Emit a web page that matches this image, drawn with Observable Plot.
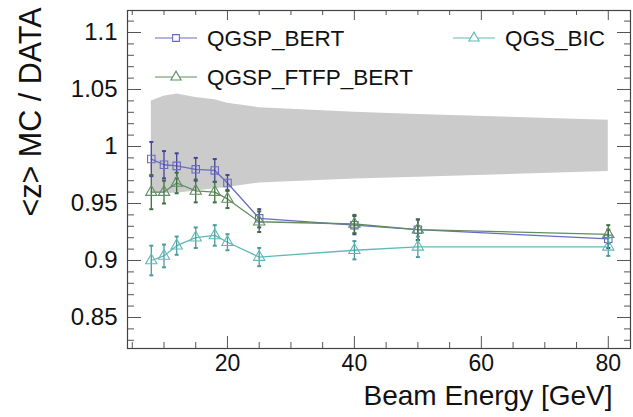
<!DOCTYPE html>
<html>
<head>
<meta charset="utf-8">
<script src="https://cdn.jsdelivr.net/npm/d3@7"></script>
<script src="https://cdn.jsdelivr.net/npm/@observablehq/plot@0.6"></script>
<style>
  body { margin: 0; background: white; }
  #chart { width: 633px; height: 417px; }
</style>
</head>
<body>
<div id="chart"></div>
<script>
// ---- data ----
const energies = [8, 10, 12, 15, 18, 20, 25, 40, 50, 80];
const qgspBert        = [0.989, 0.984, 0.983, 0.980, 0.979, 0.968, 0.937, 0.931, 0.927, 0.919];
const qgspBertErr     = [0.015, 0.012, 0.011, 0.010, 0.010, 0.007, 0.008, 0.008, 0.009, 0.008];
const qgspFtfpBert    = [0.960, 0.960, 0.968, 0.961, 0.960, 0.954, 0.934, 0.932, 0.927, 0.923];
const qgspFtfpBertErr = [0.015, 0.010, 0.009, 0.010, 0.009, 0.008, 0.009, 0.008, 0.009, 0.008];
const qgsBic          = [0.900, 0.904, 0.913, 0.920, 0.922, 0.916, 0.903, 0.909, 0.912, 0.912];
const qgsBicErr       = [0.013, 0.010, 0.008, 0.009, 0.009, 0.007, 0.008, 0.008, 0.009, 0.008];
const bandHigh = [1.040, 1.044, 1.046, 1.043, 1.041, 1.038, 1.034, 1.030, 1.028, 1.023];
const bandLow  = [0.959, 0.959, 0.959, 0.961, 0.963, 0.964, 0.968, 0.9715, 0.973, 0.978];

const seriesNames = ["QGSP_BERT", "QGSP_FTFP_BERT", "QGS_BIC"];
const xMajorTicks = [20, 40, 60, 80];
const xMinorTicks = [5, 10, 15, 25, 30, 35, 45, 50, 55, 65, 70, 75];
const yMajorTicks = [0.85, 0.9, 0.95, 1, 1.05, 1.1];
const yMinorTicks = [0.83, 0.84, 0.86, 0.87, 0.88, 0.89, 0.91, 0.92, 0.93, 0.94, 0.96, 0.97, 0.98, 0.99,
                     1.01, 1.02, 1.03, 1.04, 1.06, 1.07, 1.08, 1.09, 1.11];
const xTitle = "Beam Energy [GeV]";
const yTitle = "<z> MC / DATA";

// ---- styles ----
const colors = {"QGSP_BERT": "#6a6ac6", "QGSP_FTFP_BERT": "#5f8f5f", "QGS_BIC": "#62b8b8"};
const errColors = {"QGSP_BERT": "#44449a", "QGSP_FTFP_BERT": "#3f6f3f", "QGS_BIC": "#4a9c9c"};
const symbols = {"QGSP_BERT": "square", "QGSP_FTFP_BERT": "triangle", "QGS_BIC": "triangle"};

const valuesBySeries = {"QGSP_BERT": qgspBert, "QGSP_FTFP_BERT": qgspFtfpBert, "QGS_BIC": qgsBic};
const errsBySeries = {"QGSP_BERT": qgspBertErr, "QGSP_FTFP_BERT": qgspFtfpBertErr, "QGS_BIC": qgsBicErr};

const band = energies.map((e, i) => ({energy: e, lo: bandLow[i], hi: bandHigh[i]}));
const rowsFor = s => energies.map((e, i) => ({series: s, energy: e, value: valuesBySeries[s][i], err: errsBySeries[s][i]}));

const capSymbol = {
  draw(ctx, size) {
    const w = Math.sqrt(size / Math.PI);
    ctx.moveTo(-w, 0); ctx.lineTo(w, 0);
  }
};

const W = 633, H = 417, mL = 127, mR = 3, mT = 10, mB = 69;
const frameH = H - mT - mB;
const frameW = W - mL - mR;
const tickStroke = "#555";

const seriesMarks = seriesNames.flatMap(s => {
  const rows = rowsFor(s);
  return [
    Plot.line(rows, {x: "energy", y: "value", stroke: colors[s], strokeWidth: 1.3}),
    Plot.ruleX(rows, {x: "energy", y1: d => d.value - d.err, y2: d => d.value + d.err, stroke: errColors[s], strokeWidth: 1.3}),
    Plot.dot(rows, {x: "energy", y: d => d.value - d.err, symbol: capSymbol, r: 2, stroke: errColors[s], strokeWidth: 2}),
    Plot.dot(rows, {x: "energy", y: d => d.value + d.err, symbol: capSymbol, r: 2, stroke: errColors[s], strokeWidth: 2}),
    Plot.dot(rows, {x: "energy", y: "value", symbol: symbols[s], r: 4.2, stroke: colors[s], fill: "none", strokeWidth: 1.1})
  ];
});

const chart = Plot.plot({
  width: W, height: H,
  marginLeft: mL, marginRight: mR, marginTop: mT, marginBottom: mB,
  style: {fontFamily: "'Liberation Sans', Arial, sans-serif", color: "#111", background: "white", overflow: "visible"},
  x: {domain: [4.25, 83.5]},
  y: {domain: [0.8228, 1.1193]},
  marks: [
    Plot.areaY(band, {x: "energy", y1: "lo", y2: "hi", fill: "#cbcbcb"}),
    ...seriesMarks,
    // inward ticks on all four sides
    Plot.ruleX(xMajorTicks, {x: d => d, insetTop: frameH - 12, stroke: tickStroke}),
    Plot.ruleX(xMinorTicks, {x: d => d, insetTop: frameH - 6, stroke: tickStroke}),
    Plot.ruleX(xMajorTicks, {x: d => d, insetBottom: frameH - 10, stroke: tickStroke}),
    Plot.ruleX(xMinorTicks, {x: d => d, insetBottom: frameH - 5, stroke: tickStroke}),
    Plot.ruleY(yMajorTicks, {y: d => d, insetRight: frameW - 14, stroke: tickStroke}),
    Plot.ruleY(yMinorTicks, {y: d => d, insetRight: frameW - 7, stroke: tickStroke}),
    Plot.ruleY(yMajorTicks, {y: d => d, insetLeft: frameW - 13, stroke: tickStroke}),
    Plot.ruleY(yMinorTicks, {y: d => d, insetLeft: frameW - 6, stroke: tickStroke}),
    Plot.frame({stroke: "#444", strokeWidth: 1.2}),
    Plot.axisX(xMajorTicks, {anchor: "bottom", tickSize: 0, tickPadding: 6, label: null, fontSize: 23, tickFormat: d => String(d)}),
    Plot.axisY(yMajorTicks, {anchor: "left", tickSize: 0, tickPadding: 10, label: null, fontSize: 24, tickFormat: d => String(+d.toFixed(2))}),
    Plot.text([xTitle], {text: d => d, frameAnchor: "bottom-right", dx: -18, dy: 48, textAnchor: "end", lineAnchor: "middle", fontSize: 28}),
    Plot.text([yTitle], {text: d => d, frameAnchor: "top-left", dx: -96, dy: -3, rotate: -90, textAnchor: "end", lineAnchor: "middle", fontSize: 30.5})
  ]
});

document.getElementById("chart").appendChild(chart);

// ---- legend (inside the frame, drawn in pixel space) ----
const svg = d3.select(chart);
const legendItems = [
  {name: "QGSP_BERT", x: 155, y: 38},
  {name: "QGSP_FTFP_BERT", x: 155, y: 77},
  {name: "QGS_BIC", x: 453, y: 38}
];
const lg = svg.append("g")
  .attr("font-family", "'Liberation Sans', Arial, sans-serif")
  .attr("text-anchor", "start");
legendItems.forEach(it => {
  const c = colors[it.name];
  lg.append("line").attr("x1", it.x).attr("x2", it.x + 42).attr("y1", it.y).attr("y2", it.y)
    .attr("stroke", c).attr("stroke-width", 1.2);
  const sym = symbols[it.name] === "square" ? d3.symbolSquare : d3.symbolTriangle;
  lg.append("path").attr("d", d3.symbol(sym, 45)())
    .attr("transform", `translate(${it.x + 21},${it.y})`)
    .attr("fill", "white").attr("stroke", c).attr("stroke-width", 1.1);
  lg.append("text").attr("x", it.x + 52).attr("y", it.y).attr("dy", "0.35em")
    .attr("text-anchor", "start")
    .attr("font-size", 22.5).attr("fill", "#111").text(it.name);
});
</script>
</body>
</html>
